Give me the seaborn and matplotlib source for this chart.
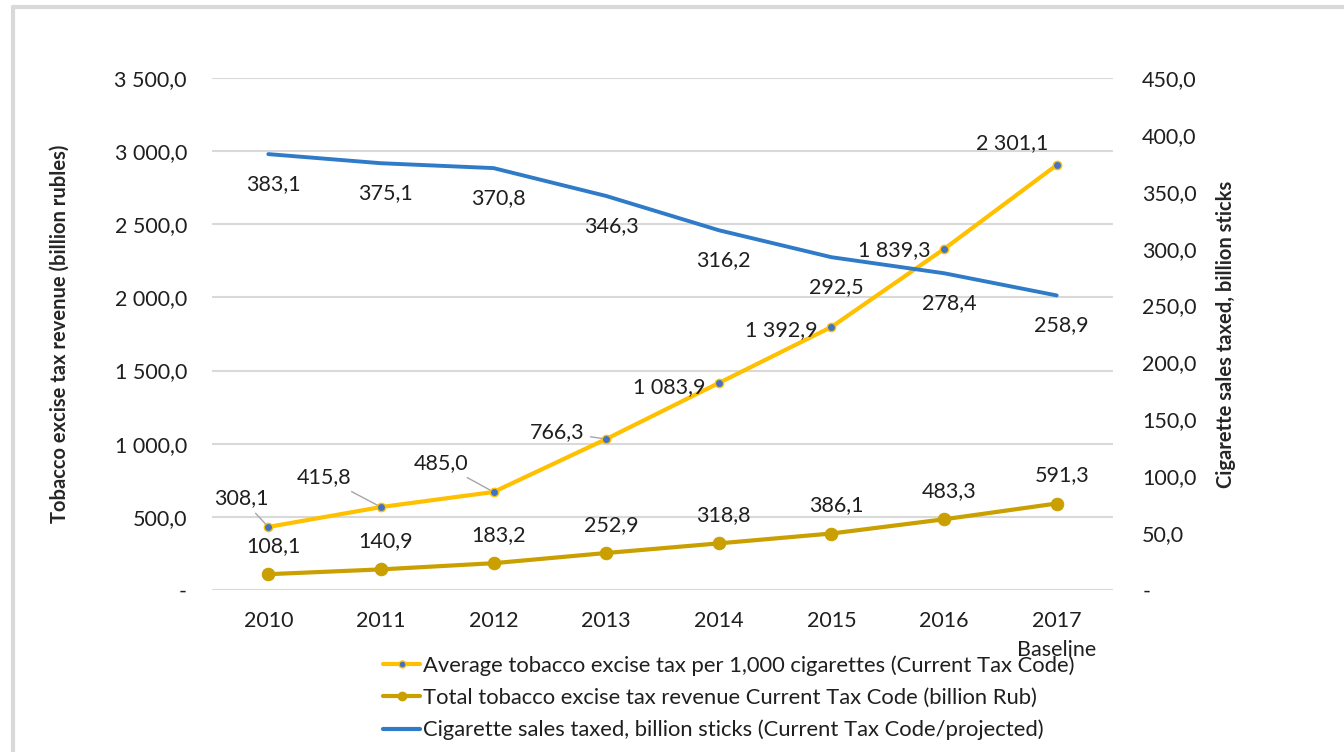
import numpy as np
import pandas as pd
import seaborn as sns
import matplotlib.pyplot as plt
from matplotlib.lines import Line2D
from matplotlib.ticker import FuncFormatter

# Data
years = ['2010', '2011', '2012', '2013', '2014', '2015', '2016', '2017']
tick_labels = ['2010', '2011', '2012', '2013', '2014', '2015', '2016', '2017\nBaseline']

# average excise tax per 1,000 cigarettes: printed labels, and the height the
# source chart actually draws the line at (on the left axis)
avg_tax_labels = [308.1, 415.8, 485.0, 766.3, 1083.9, 1392.9, 1839.3, 2301.1]
avg_tax_plotted = [431, 567, 670, 1032, 1415, 1798, 2331, 2905]

# total excise revenue, billion rub (left axis)
revenue = [108.1, 140.9, 183.2, 252.9, 318.8, 386.1, 483.3, 591.3]

# cigarette sales taxed, billion sticks (right axis)
sales = [383.1, 375.1, 370.8, 346.3, 316.2, 292.5, 278.4, 258.9]

yellow = '#FFC000'
gold = '#C9A000'
blue = '#2F7BC8'
dot = '#4472C4'
grid_col = '#D9D9D9'
txt = '#1F1F1F'

sns.set_style('white')
plt.rcParams['font.family'] = ['Lato', 'DejaVu Sans']
plt.rcParams['text.color'] = txt

df = pd.DataFrame({'year': years, 'avg': avg_tax_plotted,
                   'rev': revenue, 'sales': sales})

fig = plt.figure(figsize=(13.44, 7.52), dpi=100)
ax = fig.add_axes([212 / 1344, 1 - 590 / 752, 901 / 1344, 512 / 752])
ax2 = ax.twinx()


def fmt(v, pos=None):
    if abs(v) < 1e-9:
        return '-'
    return f'{v:,.1f}'.replace(',', ' ').replace('.', ',')


# lines
sns.lineplot(data=df, x='year', y='avg', ax=ax, color=yellow, linewidth=3,
             marker='o', markersize=6, markerfacecolor=dot,
             markeredgecolor=yellow, markeredgewidth=1, zorder=4)
sns.lineplot(data=df, x='year', y='rev', ax=ax, color=gold, linewidth=3,
             marker='o', markersize=9, markerfacecolor=gold,
             markeredgecolor=gold, zorder=4)
sns.lineplot(data=df, x='year', y='sales', ax=ax2, color=blue, linewidth=2.8,
             zorder=3)

ax.set_xlim(-0.5, len(years) - 0.5)
ax.set_ylim(0, 3500)
ax2.set_ylim(0, 450)
ax.set_yticks(np.arange(0, 3501, 500))
ax2.set_yticks(np.arange(0, 451, 50))
ax.yaxis.set_major_formatter(FuncFormatter(fmt))
ax2.yaxis.set_major_formatter(FuncFormatter(fmt))
ax.set_xticks(range(len(years)))
ax.set_xticklabels(tick_labels, linespacing=1.55)

ax.grid(axis='y', color=grid_col, linewidth=1.5)
ax.set_axisbelow(True)
for a in (ax, ax2):
    for s in a.spines.values():
        s.set_visible(False)
    a.tick_params(length=0, labelsize=15.5, colors=txt)
ax.tick_params(axis='y', pad=18)
ax2.tick_params(axis='y', pad=21)
ax.tick_params(axis='x', pad=15)

ax.set_xlabel('')
ax.set_ylabel('Tobacco excise tax revenue (billion rubles)', fontsize=14.5,
              fontweight='bold', labelpad=32)
ax2.set_ylabel('Cigarette sales taxed, billion sticks', fontsize=14.5,
               fontweight='bold', labelpad=14)

# data labels (offsets in pixels)
avg_off = [(-27, 29), (-57, 30), (-53, 29), (-49, 7),
           (-50, -4), (-50, -3), (-50, -1), (-45, 22)]
leader = [True, True, True, True, False, False, False, False]
for i, (lab, y) in enumerate(zip(avg_tax_labels, avg_tax_plotted)):
    dx, dy = avg_off[i]
    kw = {}
    if leader[i]:
        kw['arrowprops'] = dict(arrowstyle='-', color='#A6A6A6', lw=1,
                                shrinkA=2, shrinkB=3)
    ax.annotate(fmt(lab), xy=(i, y), xytext=(dx, dy),
                textcoords='offset pixels', ha='center', va='center',
                fontsize=15.5, zorder=6, **kw)

for i, v in enumerate(revenue):
    ax.annotate(fmt(v), xy=(i, v), xytext=(5, 28), textcoords='offset pixels',
                ha='center', va='center', fontsize=15.5, zorder=6)

for i, v in enumerate(sales):
    ax2.annotate(fmt(v), xy=(i, v), xytext=(5, -30), textcoords='offset pixels',
                 ha='center', va='center', fontsize=15.5, zorder=6)

# legend
for a in (ax, ax2):
    if a.get_legend() is not None:
        a.get_legend().remove()
handles = [
    Line2D([], [], color=yellow, lw=3, marker='o', markersize=5,
           markerfacecolor=dot, markeredgecolor=yellow),
    Line2D([], [], color=gold, lw=3, marker='o', markersize=6,
           markerfacecolor=gold, markeredgecolor=gold),
    Line2D([], [], color=blue, lw=3),
]
labels = ['Average tobacco excise tax per 1,000 cigarettes (Current Tax Code)',
          'Total tobacco excise tax revenue Current Tax Code (billion Rub)',
          'Cigarette sales taxed, billion sticks (Current Tax Code/projected)']
fig.legend(handles, labels, loc='upper left',
           bbox_to_anchor=(383 / 1344, 1 - 655 / 752), frameon=False,
           fontsize=15.8, handlelength=1.7, handletextpad=0.12,
           labelspacing=0.55, borderaxespad=0, borderpad=0)

# outer chart frame (left and top edges visible in the source)
fig.add_artist(Line2D([13 / 1344, 13 / 1344], [0, 1 - 7 / 752],
                      color=grid_col, lw=3, transform=fig.transFigure))
fig.add_artist(Line2D([13 / 1344, 1], [1 - 7 / 752, 1 - 7 / 752],
                      color=grid_col, lw=3, transform=fig.transFigure))

fig.savefig('out.png', dpi=100)
